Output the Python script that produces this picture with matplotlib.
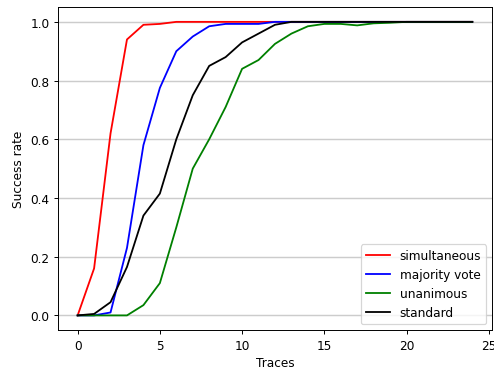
import matplotlib
matplotlib.use("Agg")
import matplotlib.pyplot as plt
import numpy as np

traces = list(range(25))
simultaneous = [0, 0.16, 0.62, 0.94, 0.99, 0.993] + [1.0] * 19
majority_vote = [0, 0, 0.01, 0.23, 0.58, 0.775, 0.9, 0.95, 0.985, 0.993, 0.993, 0.993] + [1.0] * 13
unanimous = [0, 0, 0, 0, 0.035, 0.11, 0.3, 0.5, 0.6, 0.71, 0.84, 0.87, 0.925, 0.96, 0.985,
             0.993, 0.993, 0.988, 0.995, 0.997] + [1.0] * 5
standard = [0, 0.005, 0.045, 0.165, 0.34, 0.415, 0.6, 0.75, 0.85, 0.88, 0.93, 0.96, 0.99] + [1.0] * 12

dpi = 87
fig = plt.figure(figsize=(495 / dpi, 372 / dpi), dpi=dpi)
ax = fig.add_axes([0.117, 0.11, 0.877, 0.868])
ax.plot(traces, simultaneous, color="red", label="simultaneous")
ax.plot(traces, majority_vote, color="blue", label="majority vote")
ax.plot(traces, unanimous, color="green", label="unanimous")
ax.plot(traces, standard, color="black", label="standard")
ax.set_xlabel("Traces")
ax.set_ylabel("Success rate")
ax.grid(axis="y", color="#cccccc", linewidth=1.2)
ax.set_xticks([0, 5, 10, 15, 20, 25])
ax.legend(loc="lower right")
fig.savefig("out.png", dpi=dpi)
